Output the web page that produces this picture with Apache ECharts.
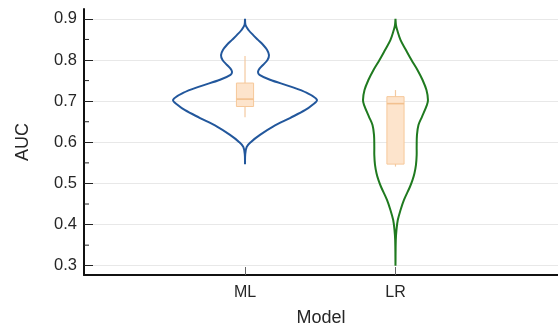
<!DOCTYPE html>
<html><head><meta charset="utf-8">
<script src="https://cdn.jsdelivr.net/npm/echarts@6/dist/echarts.min.js"></script>
<style>html,body{margin:0;padding:0;background:#fff}#c{width:558px;height:328px}</style>
</head><body><div id="c"></div>
<script>
// ---- data ----
const categories = ['ML', 'LR'];
const categoryPos = [1, 2];
const yTicks = [0.3, 0.4, 0.5, 0.6, 0.7, 0.8, 0.9];
const yMinorTicks = [0.35, 0.45, 0.55, 0.65, 0.75, 0.85];

// violin outline: AUC value and kernel density (relative)
const mlAuc = [0.547, 0.570, 0.589, 0.601, 0.618, 0.638, 0.659, 0.678, 0.690, 0.703, 0.720, 0.736, 0.752, 0.764, 0.771, 0.779, 0.788, 0.800, 0.812, 0.825, 0.837, 0.849, 0.861, 0.873, 0.885, 0.900];
const mlDensity = [0, 0.02, 0.17, 0.6, 1.5, 2.8, 4.5, 6.0, 6.7, 7.2, 6.2, 4.5, 2.5, 1.45, 1.3, 1.45, 1.8, 2.25, 2.4, 2.2, 1.8, 1.3, 0.8, 0.35, 0.05, 0];
const lrAuc = [0.300, 0.362, 0.387, 0.411, 0.435, 0.460, 0.492, 0.508, 0.525, 0.545, 0.569, 0.589, 0.618, 0.642, 0.662, 0.691, 0.703, 0.727, 0.752, 0.776, 0.800, 0.825, 0.849, 0.873, 0.885, 0.900];
const lrDensity = [0, 0.03, 0.1, 0.23, 0.5, 0.85, 1.45, 1.7, 1.9, 2.05, 2.12, 2.12, 2.15, 2.3, 2.65, 3.15, 3.25, 3.1, 2.7, 2.2, 1.6, 1.03, 0.5, 0.17, 0.05, 0];

// box plot: lower whisker, Q1, median, Q3, upper whisker
const mlBox = [0.661, 0.687, 0.705, 0.744, 0.810];
const lrBox = [0.541, 0.547, 0.694, 0.711, 0.727];

// ---- styling ----
const violinColors = ['#22579c', '#1f7a1f'];
const densityScale = 0.0664;   // x-units per density unit
const boxHalf = 0.057;         // x-units
const textColor = '#262626';
const font = 'Liberation Sans, Arial, sans-serif';
const xMin = -0.07, xMax = 3.08, yMin = 0.2775, yMax = 0.924;

const violins = [[mlAuc, mlDensity], [lrAuc, lrDensity]];
const boxes = [mlBox, lrBox];

const chart = echarts.init(document.getElementById('c'), null, {renderer: 'canvas'});

function violinSeries(i) {
  return {
    type: 'custom',
    xAxisIndex: 0, yAxisIndex: 0,
    clip: false,
    z: 2,
    data: [[categoryPos[i], violins[i][0][0]]],
    renderItem: function (params, api) {
      const auc = violins[i][0], dens = violins[i][1];
      const x = categoryPos[i];
      const pts = [];
      for (let k = 0; k < auc.length; k++) pts.push(api.coord([x + dens[k] * densityScale, auc[k]]));
      for (let k = auc.length - 1; k >= 0; k--) pts.push(api.coord([x - dens[k] * densityScale, auc[k]]));
      return {
        type: 'polygon',
        shape: {points: pts, smooth: 0.35},
        style: {fill: 'transparent', stroke: violinColors[i], lineWidth: 2}
      };
    }
  };
}

function boxSeries(i) {
  return {
    type: 'custom',
    xAxisIndex: 0, yAxisIndex: 0,
    clip: false,
    z: 3,
    data: [[categoryPos[i]].concat(boxes[i])],
    renderItem: function (params, api) {
      const b = boxes[i];
      const x = categoryPos[i];
      const lo = api.coord([x, b[0]]), hi = api.coord([x, b[4]]);
      const tl = api.coord([x - boxHalf, b[3]]), br = api.coord([x + boxHalf, b[1]]);
      const ml = api.coord([x - boxHalf, b[2]]), mr = api.coord([x + boxHalf, b[2]]);
      return {
        type: 'group',
        children: [
          {type: 'line', shape: {x1: lo[0], y1: lo[1], x2: hi[0], y2: hi[1]}, style: {stroke: '#f3c9a0', lineWidth: 1.2}},
          {type: 'rect', shape: {x: tl[0], y: tl[1], width: br[0] - tl[0], height: br[1] - tl[1]},
            style: {fill: '#fde4cc', stroke: '#f6c89a', lineWidth: 1}},
          {type: 'line', shape: {x1: ml[0], y1: ml[1], x2: mr[0], y2: mr[1]}, style: {stroke: '#f2c08f', lineWidth: 1.6}}
        ]
      };
    }
  };
}

// minor ticks on the y axis, placed through the axis scale
const minorTickSeries = {
  type: 'custom',
  xAxisIndex: 0, yAxisIndex: 0,
  clip: false,
  z: 4,
  silent: true,
  data: yMinorTicks.map(v => [xMin, v]),
  renderItem: function (params, api) {
    const p = api.coord([api.value(0), api.value(1)]);
    return {type: 'line', shape: {x1: p[0], y1: p[1], x2: p[0] + 5, y2: p[1]}, style: {stroke: '#222', lineWidth: 1}};
  }
};

chart.setOption({
  animation: false,
  backgroundColor: '#fff',
  grid: {left: 84, right: 0, top: 9, bottom: 53, containLabel: false, outerBoundsMode: 'none'},
  xAxis: {
    type: 'value',
    min: xMin, max: xMax,
    name: 'Model', nameLocation: 'middle', nameGap: 34,
    nameTextStyle: {fontSize: 18, color: textColor, fontFamily: font},
    axisLine: {show: true, onZero: false, lineStyle: {color: '#111', width: 2}},
    axisTick: {show: true, inside: true, length: 8, customValues: categoryPos, lineStyle: {color: '#666', width: 1}},
    axisLabel: {show: true, customValues: categoryPos, margin: 10, fontSize: 16, color: textColor, fontFamily: font,
      formatter: function (v) { const j = categoryPos.indexOf(Math.round(v)); return j >= 0 ? categories[j] : ''; }},
    splitLine: {show: false}
  },
  yAxis: {
    type: 'value',
    min: yMin, max: yMax,
    name: 'AUC', nameLocation: 'middle', nameGap: 52,
    nameTextStyle: {fontSize: 18, color: textColor, fontFamily: font},
    axisLine: {show: true, onZero: false, lineStyle: {color: '#111', width: 2}},
    axisTick: {show: true, inside: true, length: 9, customValues: yTicks, lineStyle: {color: '#222', width: 1}},
    axisLabel: {show: true, customValues: yTicks, margin: 7, fontSize: 16.5, color: textColor, fontFamily: font,
      formatter: function (v) { return v.toFixed(1); }},
    splitLine: {show: true, lineStyle: {color: '#e8e8e8', width: 1}}
  },
  series: [violinSeries(0), violinSeries(1), boxSeries(0), boxSeries(1), minorTickSeries]
});
</script>
</body></html>
